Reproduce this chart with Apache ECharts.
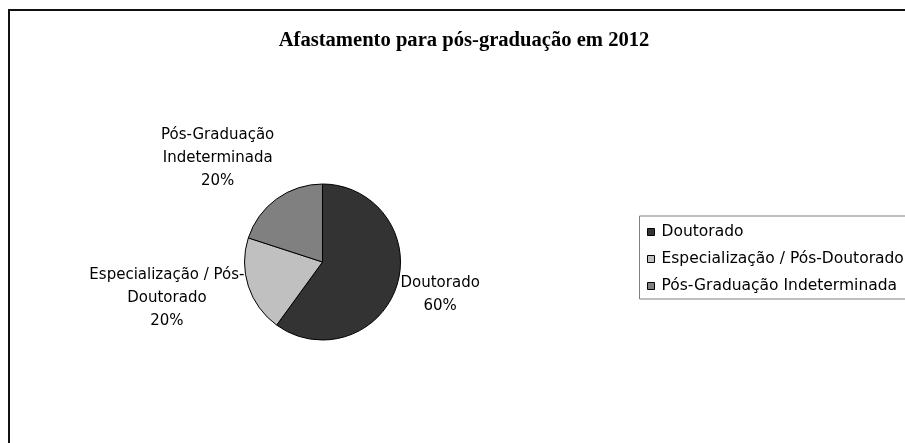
<!DOCTYPE html>
<html>
<head>
<meta charset="utf-8">
<script src="https://cdn.jsdelivr.net/npm/echarts@6/dist/echarts.min.js"></script>
<style>
  html, body { margin: 0; padding: 0; background: #fff; }
  #chart { width: 905px; height: 443px; }
</style>
</head>
<body>
<div id="chart"></div>
<script>
// Leave types for 2012 and their share of the total (%)
const categories = ['Doutorado', 'Especialização / Pós-Doutorado', 'Pós-Graduação Indeterminada'];
const shares = [60, 20, 20];
const sliceColors = ['#333333', '#c0c0c0', '#808080'];
// Slice labels, broken across lines the way they are set on the chart
const sliceLabelNames = ['Doutorado', 'Especialização / Pós-\nDoutorado', 'Pós-Graduação\nIndeterminada'];

const chart = echarts.init(document.getElementById('chart'), null, { renderer: 'canvas' });

const PIE_CX = 322.5, PIE_CY = 262, PIE_R = 78;
const LABEL_FONT = 'DejaVu Sans, Liberation Sans, Arial, sans-serif';

chart.setOption({
  animation: false,
  backgroundColor: '#ffffff',
  title: {
    text: 'Afastamento para pós-graduação em 2012',
    left: 459,
    top: 25.5,
    textAlign: 'center',
    textStyle: {
      fontFamily: 'Liberation Serif, Times New Roman, serif',
      fontWeight: 'bold',
      fontSize: 20.6,
      color: '#000'
    }
  },
  legend: {
    orient: 'vertical',
    left: 639.5,
    top: 216,
    padding: [7, 10, 4, 7.5],
    itemWidth: 7,
    itemHeight: 7,
    itemGap: 9,
    borderColor: '#808080',
    borderWidth: 1,
    icon: 'rect',
    itemStyle: { borderColor: '#000', borderWidth: 1 },
    textStyle: { fontFamily: LABEL_FONT, fontSize: 15.5, color: '#000', lineHeight: 18, padding: [0, 0, 0, 2] },
    data: categories
  },
  graphic: [{
    type: 'rect',
    shape: { x: 9, y: 10, width: 930, height: 460 },
    style: { fill: 'none', stroke: '#111', lineWidth: 2 },
    silent: true,
    z: 10
  }],
  series: [{
    type: 'pie',
    center: [PIE_CX, PIE_CY],
    radius: PIE_R,
    startAngle: 90,
    clockwise: true,
    avoidLabelOverlap: false,
    label: {
      show: true,
      position: 'outside',
      fontFamily: LABEL_FONT,
      fontSize: 15,
      lineHeight: 23,
      color: '#000',
      align: 'center',
      formatter: p => sliceLabelNames[p.dataIndex] + '\n' + p.percent.toFixed(0) + '%'
    },
    labelLine: { show: false, length: 4, length2: 0 },
    labelLayout: function (p) {
      // Put each label just outside the rim, on the slice's middle angle,
      // pushed away from the pie by half its own size
      let before = 0;
      for (let i = 0; i < p.dataIndex; i++) before += shares[i];
      const total = shares.reduce((a, b) => a + b, 0);
      const mid = (before + shares[p.dataIndex] / 2) / total * 2 * Math.PI;
      const dx = Math.sin(mid), dy = -Math.cos(mid);
      const r = PIE_R + 4;
      const px = PIE_CX + dx * r, py = PIE_CY + dy * r;
      const w = p.labelRect.width, h = p.labelRect.height;
      const cx = px + Math.sign(dx) * w / 2;
      const cy = Math.abs(dy) > 0.7 ? py + Math.sign(dy) * (h / 2 + 3) : py + dy * h / 2;
      return { x: cx, y: cy, align: 'center', verticalAlign: 'middle' };
    },
    itemStyle: { borderColor: '#000', borderWidth: 1 },
    emphasis: { disabled: true },
    data: categories.map((name, i) => ({
      name: name,
      value: shares[i],
      itemStyle: { color: sliceColors[i] }
    }))
  }]
});
</script>
</body>
</html>
